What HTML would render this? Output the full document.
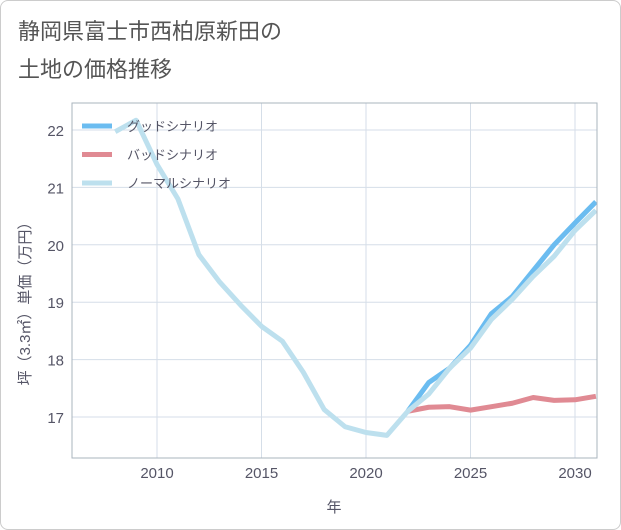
<!DOCTYPE html>
<html><head><meta charset="utf-8"><style>
body{margin:0;background:#fff;font-family:"Liberation Sans","Noto Sans CJK JP",sans-serif;}
#card{position:absolute;left:0;top:0;width:619px;height:528px;border:1px solid #ccc;border-radius:8px;background:#fff;}
</style></head><body>
<div id="card">
<svg width="621" height="530" style="position:absolute;left:-1px;top:-1px">
<text x="18" y="39" font-size="22" fill="#555">静岡県富士市西柏原新田の</text>
<text x="18" y="77" font-size="22" fill="#555">土地の価格推移</text>
<g id="grid"></g><g id="lines"></g>
<rect x="72" y="103" width="525" height="355" fill="none" stroke="#aab4be"/>
<g id="axes"></g>
<text x="334" y="512" font-size="15" fill="#556" text-anchor="middle">年</text>
<text transform="translate(30,300) rotate(-90)" font-size="15" fill="#556" text-anchor="middle">坪（3.3㎡）単価（万円）</text>
<g id="legend"></g>
</svg></div>
<script>
const years=[2008,2009,2010,2011,2012,2013,2014,2015,2016,2017,2018,2019,2020,2021,2022,2023,2024,2025,2026,2027,2028,2029,2030,2031];
const normal=[21.97,22.17,21.4,20.8,19.83,19.35,18.95,18.58,18.32,17.78,17.13,16.83,16.73,16.68,17.1,17.4,17.85,18.2,18.7,19.05,19.45,19.8,20.25,20.6];
const goodYears=[2022,2023,2024,2025,2026,2027,2028,2029,2030,2031];
const good=[17.1,17.6,17.85,18.25,18.8,19.1,19.55,20.0,20.38,20.75];
const bad=[17.1,17.17,17.18,17.12,17.18,17.24,17.34,17.29,17.3,17.36];
const xTicks=[2010,2015,2020,2025,2030];
const yTicks=[17,18,19,20,21,22];
const X=v=>157+(v-2010)*20.9, Y=v=>417-(v-17)*57.4;
const NS="http://www.w3.org/2000/svg";
function mk(t,a,p){const e=document.createElementNS(NS,t);for(const k in a)e.setAttribute(k,a[k]);p.appendChild(e);return e;}
const grid=document.getElementById('grid'),axes=document.getElementById('axes'),lines=document.getElementById('lines'),leg=document.getElementById('legend');
xTicks.forEach(t=>{const l=mk('line',{x1:X(t),x2:X(t),y1:103,y2:458,stroke:'#d5dee8'},grid);


const tx=mk('text',{x:X(t),y:478,'font-size':15,fill:'#556','text-anchor':'middle'},axes);tx.textContent=t;

});
yTicks.forEach(t=>{const l=mk('line',{x1:72,x2:597,y1:Y(t),y2:Y(t),stroke:'#d5dee8'},grid);


const tx=mk('text',{x:64,y:Y(t)+6,'font-size':15,fill:'#556','text-anchor':'end'},axes);tx.textContent=t;

});
function path(xs,vs,c,n){const p=mk('polyline',{points:xs.map((x,i)=>X(x)+','+Y(vs[i])).join(' '),fill:'none',stroke:c,'stroke-width':5,'stroke-linejoin':'round','clip-path':'url(#clip)'},lines);

}
const cp=mk('clipPath',{id:'clip'},lines);mk('rect',{x:72,y:103,width:525,height:355},cp);
path(goodYears,bad,'#e08a93','bad-scenario-line');
path(goodYears,good,'#6bbcf0','good-scenario-line');
path(years,normal,'#bde0ee','normal-scenario-line');
[['グッドシナリオ','#6bbcf0'],['バッドシナリオ','#e08a93'],['ノーマルシナリオ','#bde0ee']].forEach((d,i)=>{const y=126+i*28.5;
const l=mk('line',{x1:82,x2:112,y1:y,y2:y,stroke:d[1],'stroke-width':5},leg);


const t=mk('text',{x:127,y:y+5,'font-size':13,fill:'#556'},leg);t.textContent=d[0];

});
</script>
</body></html>
